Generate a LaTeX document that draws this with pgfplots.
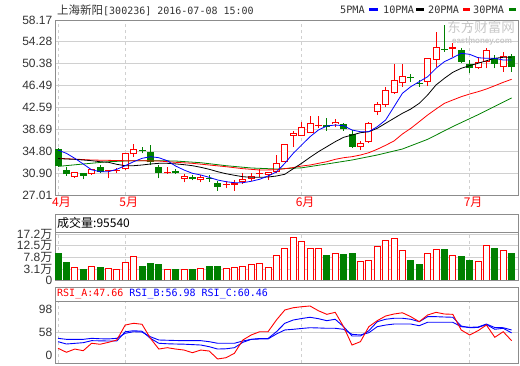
\documentclass[border=0pt]{standalone}
\usepackage{pgfplots}
\pgfplotsset{compat=1.18}
\usepackage{pgfplotstable}
\usepackage{fontspec}
\setmainfont{Liberation Sans}
\newfontfamily\cjk{Noto Sans CJK SC}
\newfontfamily\mono{DejaVu Sans Mono}
\definecolor{cred}{HTML}{FF0000}
\definecolor{cgreen}{HTML}{008000}
\definecolor{cblue}{HTML}{0000FF}
\definecolor{cgrid}{HTML}{D0D0D0}
\definecolor{cframe}{HTML}{8C8C8C}
\definecolor{ctext}{HTML}{333333}
\definecolor{cwm}{HTML}{C8C8C8}

% up (red, hollow) candles
\pgfplotstableread{
i o h l c
2 30.21 31.10 30.10 31.05
4 30.75 31.70 30.60 31.64
6 31.28 31.50 29.98 31.46
7 31.28 31.87 30.98 31.50
8 31.59 34.50 31.46 34.43
9 34.26 36.09 33.83 35.20
13 30.87 31.94 30.75 31.05
15 29.91 30.70 29.27 30.39
17 29.63 30.52 29.27 30.16
20 28.84 29.45 28.20 29.02
21 28.84 29.68 27.78 29.15
22 29.32 30.87 29.02 29.91
23 29.86 30.87 29.56 30.39
24 30.75 31.59 30.27 30.93
25 30.62 31.05 29.68 31.05
26 31.05 34.13 30.87 32.65
27 32.94 36.10 32.80 36.09
28 37.52 38.46 35.61 38.00
29 37.57 39.95 37.50 39.06
30 38.10 41.13 38.05 39.78
31 39.28 41.13 38.89 39.46
33 39.65 40.49 39.06 40.06
36 35.50 36.68 35.02 36.22
37 36.39 40.06 36.22 39.78
38 41.84 43.62 41.25 43.21
39 43.04 46.19 42.68 45.71
40 45.12 50.34 45.00 47.49
41 46.90 50.28 46.30 48.20
44 47.19 51.46 46.42 51.35
45 51.05 55.98 49.86 53.31
47 52.95 54.02 51.64 53.31
50 49.57 51.64 49.50 50.75
51 50.75 53.24 49.57 52.83
53 49.75 52.42 48.97 51.81
}\upk
% down (green, filled) candles
\pgfplotstableread{
i o h l c
0 35.20 35.30 32.00 32.17
1 31.46 32.00 30.40 30.70
3 30.87 31.00 29.80 30.45
5 31.94 32.35 31.00 31.11
10 35.00 35.50 34.40 34.82
11 34.61 35.91 32.35 32.83
12 31.99 32.35 29.98 30.87
14 31.30 31.69 30.75 30.84
16 30.22 30.62 29.63 29.91
18 30.12 30.62 29.38 29.94
19 29.09 29.45 27.78 28.49
32 39.47 40.67 38.46 39.17
34 39.60 39.78 38.46 38.76
35 37.87 38.58 35.43 35.61
42 48.02 48.50 47.19 47.84
43 47.01 47.49 46.30 46.83
46 53.03 57.28 52.53 52.85
48 52.83 53.13 50.46 50.75
49 50.34 51.05 48.68 49.57
52 51.46 51.94 49.57 50.34
54 51.81 52.07 48.97 49.75
}\downk
\pgfplotstableread{
i v
0 35.00
1 34.43
2 33.54
3 32.53
4 31.50
5 31.16
6 31.16
7 31.59
8 32.23
9 32.94
10 33.54
11 33.83
12 33.65
13 33.12
14 32.17
15 31.46
16 30.87
17 30.57
18 30.16
19 29.68
20 29.38
21 29.20
22 29.20
23 29.45
24 29.81
25 30.39
26 31.11
27 32.65
28 34.43
29 35.91
30 37.39
31 38.58
32 39.30
33 39.47
34 39.35
35 38.58
36 38.28
37 38.28
38 39.17
39 40.36
40 42.73
41 45.12
42 46.30
43 47.19
44 48.07
45 49.57
46 50.75
47 51.46
48 52.24
49 52.06
50 51.46
51 51.35
52 51.35
53 51.05
54 51.05
}\mafive
\pgfplotstableread{
i v
0 33.50
1 33.42
2 33.36
3 33.24
4 33.12
5 32.94
6 32.83
7 32.47
8 32.23
9 32.23
10 32.35
11 32.53
12 32.65
13 32.65
14 32.55
15 32.41
16 32.23
17 31.94
18 31.59
19 31.16
20 30.80
21 30.52
22 30.27
23 30.16
24 30.16
25 30.21
26 30.39
27 30.70
28 31.69
29 32.65
30 33.72
31 34.72
32 35.61
33 36.50
34 37.28
35 37.69
36 38.10
37 38.28
38 38.88
39 39.78
40 40.67
41 41.56
42 42.32
43 43.33
44 44.82
45 46.60
46 47.79
47 48.86
48 49.57
49 50.04
50 50.46
51 50.92
52 51.35
53 51.53
54 51.53
}\maten
\pgfplotstableread{
i v
0 33.54
2 33.40
4 33.24
6 33.18
8 33.12
10 33.10
12 33.06
14 32.83
16 32.65
18 32.35
20 32.05
22 31.70
24 31.46
26 31.50
28 31.90
29 32.17
30 32.35
31 32.65
32 32.94
33 33.36
34 33.65
35 33.83
36 34.13
37 34.54
38 35.15
39 35.86
40 36.63
41 37.87
42 38.88
43 40.06
44 41.25
45 42.32
46 43.33
47 43.93
48 44.51
49 44.99
50 45.40
51 45.88
52 46.47
53 47.07
54 47.61
}\matwenty
\pgfplotstableread{
i v
0 32.10
3 32.53
6 32.94
9 33.12
12 33.12
14 33.06
17 32.76
20 32.23
23 31.82
26 31.64
29 31.85
32 32.53
35 33.24
38 34.13
41 35.20
44 36.92
47 39.20
48 39.90
50 41.30
52 42.80
54 44.30
}\mathirty
% volume (10k lots)
\pgfplotstableread{
i v
2 3.91
4 4.32
6 3.36
7 3.09
8 5.79
9 8.23
13 3.09
15 3.09
17 3.50
20 3.50
21 3.91
22 4.32
23 5.12
24 5.53
25 3.78
26 8.64
27 11.48
28 15.93
29 14.31
30 11.48
31 11.48
33 9.44
36 6.33
37 6.74
38 12.41
39 14.72
40 15.52
41 10.67
44 9.44
45 11.21
47 8.64
50 6.20
51 12.68
53 10.67
}\volup
\pgfplotstableread{
i v
0 9.48
1 5.93
3 3.09
5 3.91
10 4.32
11 5.53
12 5.12
14 3.09
16 3.09
18 4.32
19 4.32
32 8.77
34 9.17
35 9.58
42 6.74
43 5.12
46 11.21
48 8.37
49 6.74
52 11.61
54 9.55
}\voldown
% RSI
\pgfplotstableread{
i A B C
0 38.6 46.5 50.5
1 33.8 43.7 49.3
2 37.7 44.5 49.3
3 35.7 45.3 49.3
4 44.6 47.7 50.5
5 43.4 47.5 50.0
6 45.7 47.3 49.8
7 48.5 47.3 50.5
8 66.4 58.4 56.5
9 68.5 59.6 58.4
10 67.3 59.0 58.0
11 50.5 50.5 52.4
12 37.7 44.6 48.5
13 39.3 44.0 48.2
14 37.7 43.7 47.9
15 36.5 43.5 47.7
16 33.3 43.0 47.7
17 36.5 42.5 47.7
18 35.3 40.5 46.5
19 25.8 37.7 44.6
20 27.3 38.0 44.6
21 32.6 39.3 44.6
22 48.5 45.7 47.3
23 54.5 49.3 49.3
24 58.4 50.3 49.7
25 58.4 50.3 49.7
26 72.4 58.4 55.7
27 84.4 68.5 60.5
28 87.1 72.4 61.3
29 88.3 74.2 62.3
30 89.2 75.7 63.2
31 83.5 74.0 62.9
32 79.2 71.6 62.5
33 81.6 73.3 62.5
34 64.4 64.4 61.3
35 42.5 53.3 55.3
36 46.5 53.3 54.5
37 64.4 59.6 57.2
38 71.6 70.4 64.4
39 77.2 73.3 66.4
40 79.6 74.5 67.6
41 81.1 74.5 67.6
42 76.4 73.3 67.6
43 70.4 70.4 65.6
44 78.4 76.4 69.7
45 81.6 76.4 69.7
46 79.6 76.0 69.7
47 79.2 75.7 69.7
48 60.5 65.2 64.4
49 54.5 63.2 63.7
50 59.6 63.5 64.0
51 66.4 67.0 67.6
52 51.7 61.3 63.4
53 58.4 62.5 63.2
54 47.7 57.0 60.5
}\rsi

\pgfplotsset{
  panel/.style={
    scale only axis, width=463pt,
    xmin=-0.36, xmax=54.76,
    axis line style={cframe, line width=0.8pt},
    xtick={0,8,29,49},
    xmajorgrids, ymajorgrids,
    major x grid style={cgrid, dash pattern=on 3pt off 3pt, line width=0.7pt},
    major y grid style={cgrid, line width=0.7pt},
    major tick length=0pt,
    yticklabel style={font=\fontsize{12}{12}\selectfont, text=ctext, inner sep=2.5pt},
    clip=true,
  },
  seg/.style 2 args={draw=none, mark=none, forget plot,
    error bars/.cd, y dir=plus, y explicit, error mark=none,
    error bar style={draw=#1, line width=#2}},
}

\begin{document}
\begin{tikzpicture}[x=1pt,y=1pt]
\useasboundingbox (0,0) rectangle (520,365);

% ---------------- price panel ----------------
\begin{axis}[panel, at={(55pt,170pt)}, anchor=south west, height=175pt,
  ymin=27.01, ymax=58.17,
  ytick={27.01,30.90,34.80,38.69,42.59,46.49,50.38,54.28,58.17},
  yticklabels={27.01,30.90,34.80,38.69,42.59,46.49,50.38,54.28,58.17},
  xticklabels={4月,5月,6月,7月},
  xticklabel style={font=\cjk\fontsize{12}{12}\selectfont, text=cred, xshift=3.5pt, inner sep=2pt},
]
% wicks
\addplot[seg={cred}{1pt}] table[x=i, y=l, y error plus expr={\thisrow{h}-\thisrow{l}}] {\upk};
\addplot[seg={cgreen}{1pt}] table[x=i, y=l, y error plus expr={\thisrow{h}-\thisrow{l}}] {\downk};
% bodies
\addplot[seg={cred}{7pt}] table[x=i, y=o, y error plus expr={\thisrow{c}-\thisrow{o}}] {\upk};
\addplot[seg={white}{5pt}] table[x=i, y expr={\thisrow{o}+0.18}, y error plus expr={max(\thisrow{c}-\thisrow{o}-0.36,0)}] {\upk};
\addplot[seg={cgreen}{7pt}] table[x=i, y=c, y error plus expr={\thisrow{o}-\thisrow{c}}] {\downk};
% moving averages
\addplot[cgreen, line width=0.8pt, forget plot] table[x=i, y=v] {\mathirty};
\addplot[cred, line width=0.8pt, forget plot] table[x=i, y=v] {\matwenty};
\addplot[black, line width=0.8pt, forget plot] table[x=i, y=v] {\maten};
\addplot[cblue, line width=0.8pt, forget plot] table[x=i, y=v] {\mafive};
\end{axis}

% title and legend
\node[anchor=west, inner sep=0pt, text=ctext] at (57,355)
  {{\cjk\fontsize{11.5}{12}\selectfont 上海新阳}{\mono\fontsize{10}{12}\selectfont [300236] 2016-07-08 15:00}};
\node[anchor=west, inner sep=0pt, text=ctext, font=\mono\fontsize{10.2}{12}\selectfont] at (340,355) {5PMA};
\fill[cblue] (369,353.5) rectangle (378,356.5);
\node[anchor=west, inner sep=0pt, text=ctext, font=\mono\fontsize{10.2}{12}\selectfont] at (383,355) {10PMA};
\fill[black] (416,353.5) rectangle (424,356.5);
\node[anchor=west, inner sep=0pt, text=ctext, font=\mono\fontsize{10.2}{12}\selectfont] at (428,355) {20PMA};
\fill[cred] (463,353.5) rectangle (470,356.5);
\node[anchor=west, inner sep=0pt, text=ctext, font=\mono\fontsize{10.2}{12}\selectfont] at (473,355) {30PMA};
\fill[cgreen] (509,353.5) rectangle (516,356.5);
% watermark
\node[anchor=center, inner sep=0pt, text=cwm, font=\cjk\fontsize{13.5}{14}\selectfont] at (481,337.5) {东方财富网};
\node[anchor=center, inner sep=0pt, text=cwm, font=\bfseries\fontsize{8}{8}\selectfont] at (482,323.5) {eastmoney.com};

% ---------------- volume panel ----------------
\draw[cframe, line width=0.8pt] (55,133) rectangle (518,151);
\node[anchor=west, inner sep=0pt, text=black, font=\cjk\fontsize{12}{12}\selectfont] at (57,142) {成交量:95540};
\begin{axis}[panel, at={(55pt,85pt)}, anchor=south west, height=48pt,
  ymin=-1.36, ymax=18.09,
  ytick={3.1,7.8,12.5,17.2},
  yticklabels={{3.1{\cjk 万}},{7.8{\cjk 万}},{12.5{\cjk 万}},{17.2{\cjk 万}}},
  extra y ticks={-1.36}, extra y tick labels={0}, extra y tick style={grid=none},
  xticklabels={},
]
\addplot[seg={cred}{7pt}] table[x=i, y expr={-1.36}, y error plus expr={\thisrow{v}+1.36}] {\volup};
\addplot[seg={white}{5pt}] table[x=i, y expr={-1.36}, y error plus expr={\thisrow{v}+1.36-0.41}] {\volup};
\addplot[seg={cgreen}{7pt}] table[x=i, y expr={-1.36}, y error plus expr={\thisrow{v}+1.36}] {\voldown};
\end{axis}

% ---------------- RSI panel ----------------
\draw[cframe, line width=0.8pt] (55,64) rectangle (518,78);
\node[anchor=west, inner sep=0pt, font=\mono\fontsize{10}{12}\selectfont] at (57,71)
  {\textcolor{cred}{RSI\_A:47.66} \textcolor{cblue}{RSI\_B:56.98} \textcolor{cblue}{RSI\_C:60.46}};
\begin{axis}[panel, at={(55pt,2pt)}, anchor=south west, height=62pt,
  ymin=20.99, ymax=95.15,
  ytick={58}, yticklabels={58},
  extra y ticks={30.6,85.6}, extra y tick labels={0,98},
  extra y tick style={grid=none},
  xticklabels={},
]
\addplot[cblue, line width=0.9pt] table[x=i, y=C] {\rsi};
\addplot[cblue, line width=0.9pt] table[x=i, y=B] {\rsi};
\addplot[cred, line width=0.9pt] table[x=i, y=A] {\rsi};
\end{axis}
\end{tikzpicture}
\end{document}
